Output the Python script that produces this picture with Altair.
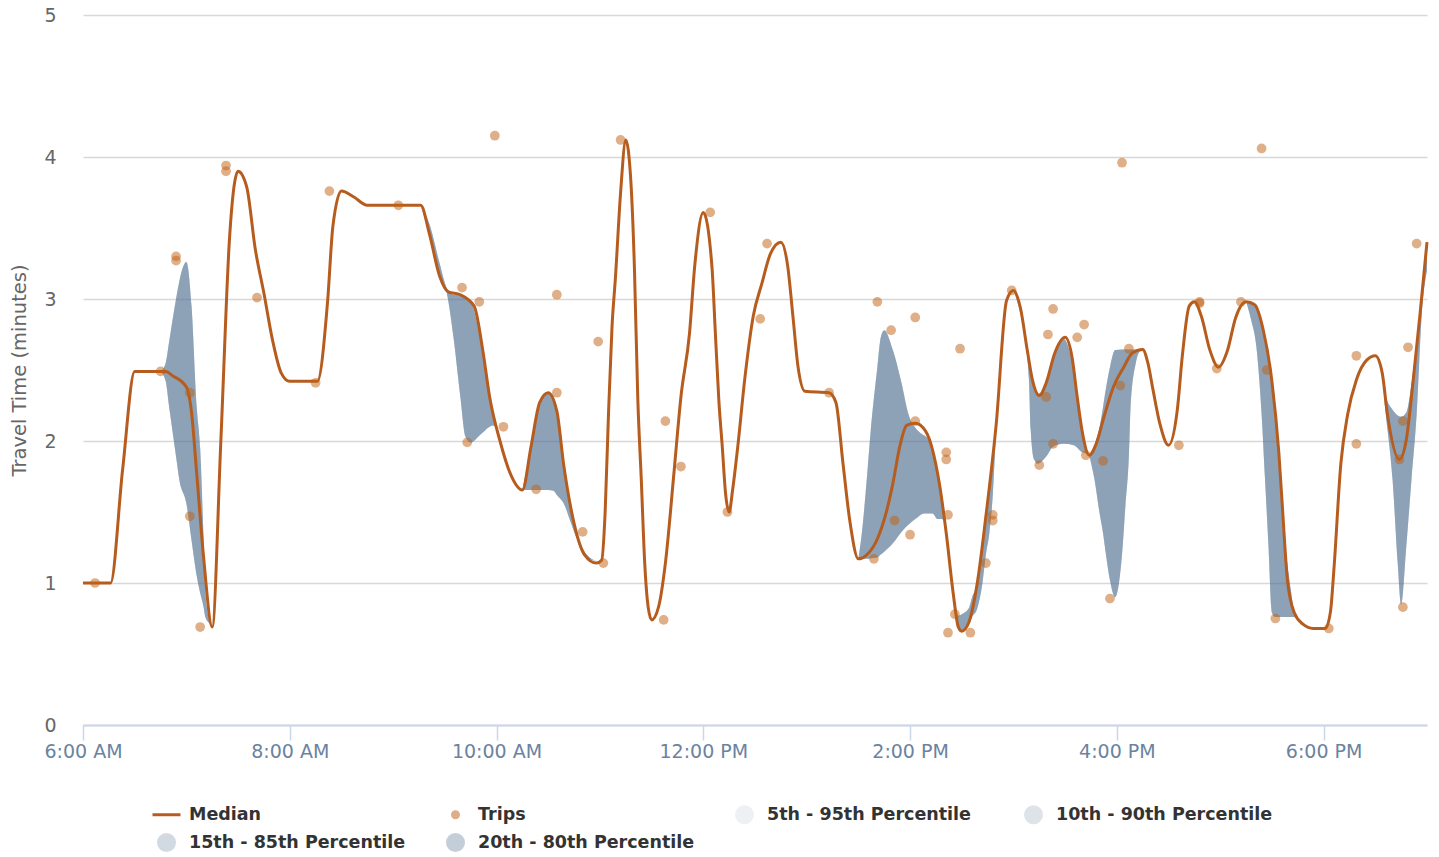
import altair as alt
import pandas as pd

DAY = "2024-01-01"

# ---- Median travel time ----
MEDIAN_TIME = [
    "06:00", "06:16", "06:23", "06:30", "06:48", "06:52", "07:00", "07:03", "07:06", "07:10",
    "07:15", "07:20", "07:25", "07:30", "07:35", "07:40", "07:45", "07:50", "07:55", "08:00",
    "08:16", "08:22", "08:25", "08:30", "08:37", "08:45", "09:16", "09:21", "09:27", "09:32",
    "09:39", "09:47", "09:52", "09:56", "10:02", "10:08", "10:15", "10:20", "10:25", "10:30",
    "10:35", "10:39", "10:45", "10:51", "10:58", "11:01", "11:03", "11:05", "11:07", "11:09",
    "11:12", "11:15", "11:18", "11:20", "11:22", "11:24", "11:26", "11:28", "11:30", "11:34",
    "11:38", "11:43", "11:47", "11:52", "11:55", "12:00", "12:05", "12:07", "12:09", "12:11",
    "12:13", "12:15", "12:17", "12:20", "12:24", "12:29", "12:34", "12:39", "12:45", "12:49",
    "12:52", "12:55", "12:59", "13:13", "13:17", "13:21", "13:25", "13:30", "13:35", "13:41",
    "13:46", "13:50", "13:54", "13:58", "14:03", "14:09", "14:13", "14:17", "14:21", "14:25",
    "14:28", "14:30", "14:34", "14:39", "14:44", "14:50", "14:56", "15:00", "15:04", "15:08",
    "15:11", "15:15", "15:19", "15:24", "15:30", "15:34", "15:37", "15:40", "15:44", "15:48",
    "15:53", "15:58", "16:04", "16:09", "16:15", "16:18", "16:21", "16:25", "16:30", "16:35",
    "16:38", "16:42", "16:45", "16:49", "16:54", "16:59", "17:04", "17:09", "17:15", "17:20",
    "17:25", "17:30", "17:34", "17:36", "17:39", "17:43", "17:48", "17:54", "18:01", "18:04",
    "18:06", "18:10", "18:14", "18:19", "18:25", "18:30", "18:34", "18:37", "18:44", "18:48",
    "18:52", "18:56", "19:00",
]
MEDIAN_VALUE = [
    1.00, 1.00, 1.80, 2.49, 2.49, 2.46, 2.38, 2.20, 1.77, 1.18,
    0.69, 2.00, 3.42, 3.90, 3.79, 3.35, 3.04, 2.71, 2.48, 2.42,
    2.42, 2.99, 3.51, 3.76, 3.72, 3.66, 3.66, 3.46, 3.16, 3.05,
    3.03, 2.95, 2.64, 2.31, 2.00, 1.77, 1.655, 1.96, 2.27, 2.34,
    2.21, 1.83, 1.42, 1.20, 1.14, 1.16, 1.49, 2.20, 2.80, 3.15,
    3.75, 4.12, 3.82, 3.23, 2.29, 1.73, 1.14, 0.83, 0.74, 0.83,
    1.14, 1.78, 2.31, 2.76, 3.23, 3.61, 3.23, 2.76, 2.29, 1.96,
    1.62, 1.50, 1.655, 1.96, 2.43, 2.88, 3.11, 3.32, 3.40, 3.23,
    2.88, 2.52, 2.35, 2.34, 2.27, 1.85, 1.44, 1.17, 1.20, 1.31,
    1.49, 1.70, 1.96, 2.11, 2.125, 2.07, 1.94, 1.70, 1.35, 0.93,
    0.69, 0.66, 0.72, 1.00, 1.47, 2.12, 2.99, 3.06, 2.94, 2.64,
    2.43, 2.32, 2.41, 2.62, 2.73, 2.59, 2.31, 2.06, 1.90, 1.98,
    2.19, 2.38, 2.52, 2.62, 2.645, 2.55, 2.36, 2.12, 1.97, 2.21,
    2.60, 2.95, 2.98, 2.88, 2.64, 2.52, 2.63, 2.87, 2.98, 2.96,
    2.78, 2.42, 1.92, 1.55, 1.02, 0.79, 0.71, 0.68, 0.68, 0.80,
    1.10, 1.84, 2.19, 2.43, 2.57, 2.60, 2.48, 2.19, 1.87, 2.01,
    2.43, 2.90, 3.40,
]

# ---- Individual trips ----
TRIP_TIME = [
    "06:07", "06:45", "06:54", "06:54", "07:02", "07:02", "07:08", "07:23", "07:23", "07:41",
    "08:15", "08:23", "09:03", "09:40", "09:43", "09:50", "09:59", "10:04", "10:23", "10:35",
    "10:35", "10:50", "10:59", "11:02", "11:12", "11:37", "11:38", "11:47", "12:04", "12:14",
    "12:33", "12:37", "13:13", "13:39", "13:41", "13:49", "13:51", "14:00", "14:03", "14:03",
    "14:21", "14:21", "14:22", "14:22", "14:26", "14:29", "14:35", "14:44", "14:48", "14:48",
    "14:59", "15:15", "15:19", "15:20", "15:23", "15:23", "15:37", "15:41", "15:42", "15:52",
    "15:56", "16:02", "16:03", "16:07", "16:36", "16:48", "16:48", "16:58", "17:12", "17:24",
    "17:27", "17:32", "18:03", "18:19", "18:19", "18:44", "18:46", "18:46", "18:49", "18:54",
]
TRIP_VALUE = [
    1.00, 2.49, 3.30, 3.27, 2.34, 1.47, 0.69, 3.94, 3.90, 3.01,
    2.41, 3.76, 3.66, 3.08, 1.99, 2.98, 4.15, 2.10, 1.66, 2.34,
    3.03, 1.36, 2.70, 1.14, 4.12, 0.74, 2.14, 1.82, 3.61, 1.50,
    2.86, 3.39, 2.34, 1.17, 2.98, 2.78, 1.44, 1.34, 2.87, 2.14,
    1.92, 1.87, 1.48, 0.65, 0.78, 2.65, 0.65, 1.14, 1.48, 1.44,
    3.06, 1.83, 2.31, 2.75, 2.93, 1.98, 2.73, 2.82, 1.90, 1.86,
    0.89, 2.39, 3.96, 2.65, 1.97, 2.98, 2.97, 2.51, 2.98, 4.06,
    2.50, 0.75, 0.68, 1.98, 2.60, 1.87, 2.14, 0.83, 2.66, 3.39,
]

# ---- Percentile band (all four percentile ranges coincide here) ----
BAND_SEGMENT = (
    ["A"] * 13 + ["B"] * 11 + ["C"] * 11 + ["D"] * 17 + ["E"] * 12
    + ["F"] * 13 + ["G"] * 13 + ["H"] * 13 + ["I"] * 11
)
BAND_TIME = [
    "06:45", "06:48", "06:50", "06:54", "06:56", "07:00", "07:03", "07:06", "07:08", "07:10", "07:11", "07:13", "07:14",
    "09:16", "09:21", "09:27", "09:31", "09:35", "09:39", "09:42", "09:45", "09:51", "09:58", "10:01",
    "10:15", "10:20", "10:25", "10:30", "10:33", "10:35", "10:39", "10:43", "10:46", "10:54", "11:00",
    "13:30", "13:32", "13:35", "13:37", "13:41", "13:43", "13:45", "13:50", "13:55", "13:59", "14:04", "14:08", "14:10", "14:13", "14:16", "14:18", "14:20",
    "14:23", "14:25", "14:28", "14:30", "14:34", "14:36", "14:39", "14:42", "14:44", "14:46", "14:48", "14:50",
    "15:00", "15:04", "15:06", "15:09", "15:10", "15:12", "15:14", "15:19", "15:23", "15:29", "15:35", "15:40", "15:43",
    "15:44", "15:47", "15:50", "15:52", "15:53", "15:56", "15:59", "16:03", "16:05", "16:07", "16:08", "16:11", "16:14",
    "17:15", "17:18", "17:21", "17:24", "17:26", "17:28", "17:30", "17:32", "17:36", "17:41", "17:43", "17:48", "17:52",
    "18:31", "18:34", "18:36", "18:40", "18:43", "18:45", "18:48", "18:51", "18:54", "18:57", "19:00",
]
BAND_LOW = [
    2.49, 2.42, 2.24, 1.89, 1.72, 1.56, 1.30, 1.05, 0.93, 0.83, 0.76, 0.72, 0.71,
    3.66, 3.46, 3.16, 3.05, 2.73, 2.31, 2.03, 1.99, 2.05, 2.11, 2.07,
    1.655, 1.655, 1.655, 1.655, 1.65, 1.62, 1.56, 1.43, 1.33, 1.17, 1.15,
    1.17, 1.17, 1.17, 1.175, 1.18, 1.20, 1.22, 1.28, 1.36, 1.41, 1.46, 1.49, 1.49, 1.49, 1.45, 1.45, 1.44,
    1.14, 0.93, 0.69, 0.66, 0.70, 0.76, 0.82, 1.00, 1.20, 1.35, 1.62, 2.12,
    3.06, 2.90, 2.78, 2.43, 2.08, 1.87, 1.84, 1.89, 1.96, 1.98, 1.97, 1.92, 1.91,
    1.90, 1.73, 1.49, 1.35, 1.26, 1.02, 0.90, 1.20, 1.55, 1.90, 2.25, 2.55, 2.645,
    2.98, 2.85, 2.66, 2.19, 1.73, 1.26, 0.79, 0.76, 0.76, 0.76, 0.76, 0.70, 0.68,
    2.57, 2.45, 2.20, 1.73, 1.14, 0.85, 1.26, 1.73, 2.19, 2.90, 3.20,
]
BAND_HIGH = [
    2.49, 2.55, 2.70, 3.00, 3.13, 3.26, 2.95, 2.24, 1.95, 1.30, 0.95, 0.75, 0.71,
    3.66, 3.53, 3.25, 3.08, 3.03, 3.03, 3.01, 2.98, 2.70, 2.20, 2.07,
    1.655, 1.96, 2.27, 2.34, 2.30, 2.21, 1.83, 1.55, 1.38, 1.18, 1.15,
    1.17, 1.35, 1.75, 2.05, 2.52, 2.73, 2.78, 2.64, 2.41, 2.19, 2.08, 2.04, 2.02, 1.94, 1.76, 1.60, 1.44,
    1.14, 0.95, 0.77, 0.78, 0.82, 0.90, 1.00, 1.30, 1.47, 1.65, 1.88, 2.12,
    3.06, 2.95, 2.82, 2.58, 2.47, 2.38, 2.33, 2.41, 2.58, 2.72, 2.50, 2.08, 1.91,
    1.90, 1.97, 2.10, 2.24, 2.32, 2.52, 2.64, 2.645, 2.645, 2.645, 2.645, 2.645, 2.645,
    2.98, 2.98, 2.94, 2.82, 2.70, 2.55, 2.43, 2.20, 1.49, 0.95, 0.79, 0.71, 0.68,
    2.57, 2.50, 2.32, 2.22, 2.18, 2.17, 2.20, 2.40, 2.70, 3.05, 3.40,
]

PERCENTILE_LABELS = [
    "5th - 95th Percentile",
    "10th - 90th Percentile",
    "15th - 85th Percentile",
    "20th - 80th Percentile",
]
PERCENTILE_OPACITY = [0.10, 0.20, 0.27, 0.35]
BAND_BASE_COLOR = "#537393"
MEDIAN_COLOR = "#B65C1E"
TRIP_COLOR = "#BF5F12"

LEGEND_LABELS = ["Median", "Trips"] + PERCENTILE_LABELS
LEGEND_COLORS = ["#B65C1E", "#DEAE88", "#EEF1F4", "#DDE3E9", "#D1DAE3", "#C3CED9"]
# legend glyphs (unit = 10px); zero-length strokes keep every entry the same height
SAME_HEIGHT = "M0,-0.8L0,-0.8M0,0.8L0,0.8"
BIG_DOT = "M-0.8,0A0.8,0.8,0,1,1,0.8,0A0.8,0.8,0,1,1,-0.8,0Z"
SMALL_DOT = "M-0.3,0A0.3,0.3,0,1,1,0.3,0A0.3,0.3,0,1,1,-0.3,0Z" + SAME_HEIGHT
LINE_GLYPH = "M-1.4,0H1.4" + SAME_HEIGHT
LEGEND_SHAPES = [LINE_GLYPH, SMALL_DOT, BIG_DOT, BIG_DOT, BIG_DOT, BIG_DOT]

X_TICK_HOURS = [6, 8, 10, 12, 14, 16, 18]
Y_TICKS = [0, 1, 2, 3, 4, 5]


def stamp(hhmm):
    return f"{DAY}T{hhmm}:00"


median_df = pd.DataFrame({"time": [stamp(t) for t in MEDIAN_TIME], "value": MEDIAN_VALUE})
trip_df = pd.DataFrame({"time": [stamp(t) for t in TRIP_TIME], "value": TRIP_VALUE})
band_df = pd.DataFrame({
    "segment": BAND_SEGMENT,
    "time": [stamp(t) for t in BAND_TIME],
    "low": BAND_LOW,
    "high": BAND_HIGH,
})
legend_df = pd.DataFrame({"series": LEGEND_LABELS})


def dt(h):
    return alt.DateTime(year=2024, month=1, date=1, hours=h)


x_axis = alt.Axis(
    title=None,
    format="%-I:%M %p",
    values=[dt(h) for h in X_TICK_HOURS],
    grid=False,
    labelFlush=False,
    domainColor="#CCD6EB",
    domainWidth=2,
    tickColor="#CCD6EB",
    tickWidth=1.5,
    tickSize=15,
    labelColor="#6B83A0",
    labelFontSize=19,
    labelPadding=2,
    labelFont="DejaVu Sans",
)
y_axis = alt.Axis(
    title="Travel Time (minutes)",
    values=Y_TICKS,
    grid=True,
    gridColor="#D8D8D8",
    gridWidth=1.5,
    domain=False,
    ticks=False,
    labelColor="#666666",
    labelFontSize=19,
    labelPadding=27,
    labelFont="DejaVu Sans",
    titleColor="#666666",
    titleFontSize=19.5,
    titleFontWeight="normal",
    titleFont="DejaVu Sans",
    titlePadding=14,
)
x_scale = alt.Scale(domain=[dt(6), dt(19)])
y_scale = alt.Scale(domain=[0, 5])

bands = []
for label, op in zip(PERCENTILE_LABELS, PERCENTILE_OPACITY):
    bands.append(
        alt.Chart(band_df)
        .mark_area(interpolate="monotone", color=BAND_BASE_COLOR, opacity=op)
        .encode(
            x=alt.X("time:T", scale=x_scale, axis=x_axis),
            y=alt.Y("low:Q", scale=y_scale, axis=y_axis),
            y2="high:Q",
            detail="segment:N",
        )
    )

median_line = (
    alt.Chart(median_df)
    .mark_line(interpolate="monotone", color=MEDIAN_COLOR, strokeWidth=3)
    .encode(
        x=alt.X("time:T", scale=x_scale, axis=x_axis),
        y=alt.Y("value:Q", scale=y_scale, axis=y_axis),
    )
)

trips = (
    alt.Chart(trip_df)
    .mark_circle(size=95, color=TRIP_COLOR, opacity=0.5)
    .encode(
        x=alt.X("time:T", scale=x_scale, axis=x_axis),
        y=alt.Y("value:Q", scale=y_scale, axis=y_axis),
    )
)

leg = alt.Legend(
    title=None,
    orient="none",
    legendX=72,
    legendY=788,
    direction="horizontal",
    columns=4,
    gridAlign="all",
    columnPadding=35,
    rowPadding=-1,
    labelFont="DejaVu Sans",
    labelFontWeight="bold",
    labelFontSize=17.5,
    labelColor="#333333",
    labelOffset=11,
    labelLimit=400,
    symbolSize=400,
    symbolStrokeWidth=3,
    symbolOpacity=1,
)

legend_layer = (
    alt.Chart(legend_df)
    .transform_filter("false")
    .mark_point(filled=True)
    .encode(
        fill=alt.Fill("series:N", scale=alt.Scale(domain=LEGEND_LABELS, range=LEGEND_COLORS), legend=leg),
        stroke=alt.Stroke("series:N", scale=alt.Scale(domain=LEGEND_LABELS, range=LEGEND_COLORS), legend=leg),
        shape=alt.Shape("series:N", scale=alt.Scale(domain=LEGEND_LABELS, range=LEGEND_SHAPES), legend=leg),
    )
)

chart = (
    alt.layer(*bands, median_line, trips, legend_layer)
    .properties(
        width=1344,
        height=710,
        autosize=alt.AutoSizeParams(type="none"),
        padding={"left": 75, "top": 7, "right": 4, "bottom": 132},
    )
    .configure(font="DejaVu Sans")
    .configure_view(strokeWidth=0)
)

chart.save("out.html", embed_options={"renderer": "svg", "actions": False})
